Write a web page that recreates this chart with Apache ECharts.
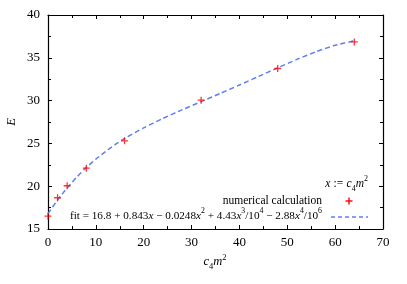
<!DOCTYPE html>
<html><head><meta charset="utf-8">
<script src="https://cdn.jsdelivr.net/npm/echarts@6/dist/echarts.min.js"></script>
<style>html,body{margin:0;padding:0;background:#fff}#c{width:407px;height:284px}</style>
</head><body><div id="c"></div>
<script>
// numerical calculation points
const xNum = [0, 2, 4, 8, 16, 32, 48, 64];
const eNum = [16.5, 18.65, 20.05, 22.1, 25.3, 30.05, 33.75, 36.85];
// fitted curve samples
const xFit = [0, 2, 4, 6, 8, 10, 12, 14, 16, 20, 24, 28, 32, 36, 40, 44, 48, 52, 56, 60, 64];
const eFit = [16.8, 18.39, 19.80, 21.06, 22.17, 23.16, 24.05, 24.85, 25.57, 26.82, 27.92, 28.92, 29.88, 30.84, 31.82, 32.82, 33.83, 34.81, 35.71, 36.46, 36.98];
// axis ranges / ticks
const xRange = [0, 70], xStep = 10;
const yRange = [15, 40], yStep = 5;

const FONT = '"Liberation Serif", "DejaVu Serif", serif';
const RED = '#ff0000', BLUE = '#5f7ff2';

const rich = {
  r: { fontFamily: FONT, fontSize: 11.5, lineHeight: 18, color: '#000' },
  i: { fontFamily: FONT, fontSize: 11.5, fontStyle: 'italic', lineHeight: 18, color: '#000' },
  sup: { fontFamily: FONT, fontSize: 8, lineHeight: 10, verticalAlign: 'top', color: '#000' },
  sub: { fontFamily: FONT, fontSize: 8, lineHeight: 10, verticalAlign: 'bottom', color: '#000' }
};
const richFit = {
  r: { fontFamily: FONT, fontSize: 11.2, lineHeight: 18, color: '#000' },
  i: { fontFamily: FONT, fontSize: 11.2, fontStyle: 'italic', lineHeight: 18, color: '#000' },
  sup: { fontFamily: FONT, fontSize: 7.8, lineHeight: 10, verticalAlign: 'top', color: '#000' }
};
const richAx = {
  i: { fontFamily: FONT, fontSize: 12.5, fontStyle: 'italic', lineHeight: 18, color: '#000' },
  sup: { fontFamily: FONT, fontSize: 8.5, lineHeight: 10, verticalAlign: 'top', color: '#000' },
  sub: { fontFamily: FONT, fontSize: 8.5, lineHeight: 10, verticalAlign: 'bottom', color: '#000' }
};

const chart = echarts.init(document.getElementById('c'), null, { renderer: 'canvas' });
const tickCommon = { show: true, inside: true, length: 4, lineStyle: { color: '#000', width: 1 } };
const minorCommon = { show: true, splitNumber: 2, length: 3, lineStyle: { color: '#000', width: 1 } };
const lineCommon = { show: true, onZero: false, lineStyle: { color: '#000', width: 1.2 } };
const labelCommon = { fontFamily: FONT, fontSize: 13, color: '#000' };

chart.setOption({
  animation: false,
  backgroundColor: '#fff',
  grid: { left: 48, right: 24, top: 15, bottom: 55, containLabel: false },
  xAxis: [
    { type: 'value', min: xRange[0], max: xRange[1], interval: xStep, position: 'bottom',
      axisLine: lineCommon, axisTick: tickCommon, minorTick: minorCommon,
      axisLabel: Object.assign({ margin: 7 }, labelCommon), splitLine: { show: false } },
    { type: 'value', min: xRange[0], max: xRange[1], interval: xStep, position: 'top',
      axisLine: lineCommon, axisTick: tickCommon, minorTick: minorCommon,
      axisLabel: { show: false }, splitLine: { show: false } }
  ],
  yAxis: [
    { type: 'value', min: yRange[0], max: yRange[1], interval: yStep, position: 'left',
      axisLine: lineCommon, axisTick: tickCommon, minorTick: minorCommon,
      axisLabel: Object.assign({ margin: 8 }, labelCommon), splitLine: { show: false } },
    { type: 'value', min: yRange[0], max: yRange[1], interval: yStep, position: 'right',
      axisLine: lineCommon, axisTick: tickCommon, minorTick: minorCommon,
      axisLabel: { show: false }, splitLine: { show: false } }
  ],
  series: [
    { name: 'fit', type: 'line', xAxisIndex: 0, yAxisIndex: 0,
      data: xFit.map((x, k) => [x, eFit[k]]), showSymbol: false, smooth: 0.2,
      lineStyle: { color: BLUE, width: 1.5, type: [5, 3] }, z: 2 },
    { name: 'numerical calculation', type: 'scatter', xAxisIndex: 0, yAxisIndex: 0,
      data: xNum.map((x, k) => [x, eNum[k]]),
      symbol: 'path://M0,5L10,5M5,0L5,10', symbolSize: 7,
      itemStyle: { color: 'none', borderColor: RED, borderWidth: 1.3 }, z: 3 }
  ],
  graphic: [
    { type: 'text', x: 12, y: 122, rotation: Math.PI / 2,
      style: { text: 'E', fontFamily: FONT, fontSize: 12.5, fontStyle: 'italic', fill: '#000', align: 'center', verticalAlign: 'middle' } },
    { type: 'text', x: 215, y: 262,
      style: { text: '{i|c}{sub|4}{i|m}{sup|2}', rich: richAx, align: 'center', verticalAlign: 'middle' } },
    { type: 'text', x: 368, y: 184,
      style: { text: '{i|x} {r|:=} {i|c}{sub|4}{i|m}{sup|2}', rich: rich, align: 'right', verticalAlign: 'middle' } },
    { type: 'text', x: 322, y: 201,
      style: { text: 'numerical calculation', fontFamily: FONT, fontSize: 11.5, fill: '#000', align: 'right', verticalAlign: 'middle' } },
    { type: 'polyline', shape: { points: [[345.5, 201], [352.5, 201]] }, style: { stroke: RED, lineWidth: 1.4 } },
    { type: 'polyline', shape: { points: [[349, 197.5], [349, 204.5]] }, style: { stroke: RED, lineWidth: 1.4 } },
    { type: 'text', x: 322, y: 216,
      style: { text: '{r|fit = 16.8 + 0.843}{i|x}{r| − 0.0248}{i|x}{sup|2}{r| + 4.43}{i|x}{sup|3}{r|/10}{sup|4}{r| − 2.88}{i|x}{sup|4}{r|/10}{sup|6}', rich: richFit, align: 'right', verticalAlign: 'middle' } },
    { type: 'polyline', shape: { points: [[331, 217], [368, 217]] }, style: { stroke: BLUE, lineWidth: 1.5, lineDash: [4, 3] } }
  ]
});
</script></body></html>
